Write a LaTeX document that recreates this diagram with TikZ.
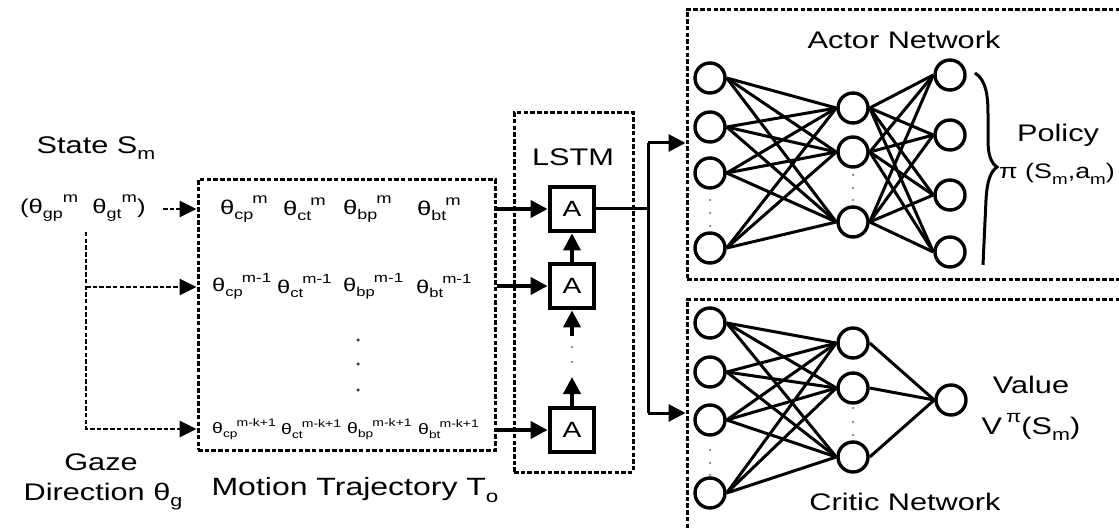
\documentclass[tikz,border=0pt]{standalone}
\usepackage{fontspec}
\setmainfont{Liberation Sans}[FakeStretch=1.28]
\usetikzlibrary{arrows.meta}
\newcommand\mysub[1]{\raisebox{-0.25em}{\scalebox{0.7}{#1}}}
\newcommand\mysup[1]{\raisebox{0.52em}{\scalebox{0.72}{#1}}}
\newcommand\thx[2]{θ\mysub{#1}\kern-0.05em\mysup{#2}}
\begin{document}
\begin{tikzpicture}[x=1pt,y=-1pt,
  lbl/.style={font=\fontsize{24}{28}\selectfont, inner sep=0},
  th/.style={font=\fontsize{20}{24}\selectfont, anchor=west, inner sep=0},
  thm/.style={font=\fontsize{18.5}{22}\selectfont, anchor=west, inner sep=0},
  ths/.style={font=\fontsize{15.2}{19}\selectfont, anchor=west, inner sep=0},
  dashbox/.style={draw, line width=3pt, dash pattern=on 4.5pt off 2.2pt, inner sep=0},
  darr/.style={line width=2.8pt, dash pattern=on 4.5pt off 2.2pt, -{Triangle[length=17pt,width=16pt]}},
  sarr/.style={line width=3.8pt, -{Triangle[length=17pt,width=17pt]}},
  abox/.style={draw, line width=4.8pt, minimum size=44pt, inner sep=0, font=\fontsize{22}{26}\selectfont},
  neuron/.style={draw, circle, line width=3.4pt, minimum size=30pt, inner sep=0},
  wire/.style={line width=3pt},
  dot/.style={fill=gray, circle, inner sep=0, minimum size=2.5pt}
]
\useasboundingbox (0,0) rectangle (1119,529);

% ---------------- left side
\node[lbl] (state) at (96,148) {State S\mysub{m}};
\node[th] (sv) at (20,208) {(θ\mysub{gp}\mysup{m}\ \ θ\mysub{gt}\mysup{m})};
\node[lbl] (gaze) at (101,462) {Gaze};
\node[lbl] (dir) at (103,497) {Direction θ\mysub{g}};

% ---------------- motion trajectory box
\node[dashbox, minimum width=297pt, minimum height=270pt] (mt) at (346.5,315) {};
\node[lbl, font=\fontsize{25}{30}\selectfont] (mtl) at (355,490) {Motion Trajectory T\mysub{o}};

\node[th] (r1a) at (220,209) {\thx{cp}{m}};
\node[th] (r1b) at (283,209) {\thx{ct}{m}};
\node[th] (r1c) at (343,209) {\thx{bp}{m}};
\node[th] (r1d) at (417,209) {\thx{bt}{m}};

\node[thm] (r2a) at (212,286) {\thx{cp}{m-1}};
\node[thm] (r2b) at (277,286) {\thx{ct}{m-1}};
\node[thm] (r2c) at (343,286) {\thx{bp}{m-1}};
\node[thm] (r2d) at (416,286) {\thx{bt}{m-1}};

\node[ths] (r3a) at (212,429) {\thx{cp}{m-k+1}};
\node[ths] (r3b) at (281,429) {\thx{ct}{m-k+1}};
\node[ths] (r3c) at (347,429) {\thx{bp}{m-k+1}};
\node[ths] (r3d) at (418,429) {\thx{bt}{m-k+1}};

\node[dot, minimum size=3.5pt, fill=black!75] (md1) at (358,340) {};
\node[dot, minimum size=3.5pt, fill=black!75] (md2) at (358,364) {};
\node[dot, minimum size=3.5pt, fill=black!75] (md3) at (358,390) {};

% dashed inputs
\coordinate (gtop) at (86,232);
\coordinate (gmid) at (86,287);
\coordinate (gbot) at (86,429);
\coordinate (sst) at (163,209);
\draw[darr] (sst) -- (mt.west |- sst);
\draw[darr] (gtop) |- (mt.west |- gbot);
\draw[darr] (gmid) -- (mt.west |- gmid);

% ---------------- LSTM
\node[dashbox, minimum width=119pt, minimum height=359pt] (lstm) at (573.5,292.5) {};
\node[lbl] (lstml) at (573,157) {LSTM};
\node[abox] (a1) at (572,209) {A};
\node[abox] (a2) at (572,286) {A};
\node[abox] (a3) at (572,430) {A};

\draw[sarr] (mt.east |- a1) -- (a1.west);
\draw[sarr] (mt.east |- a2) -- (a2.west);
\draw[sarr] (mt.east |- a3) -- (a3.west);

\draw[sarr] (a2.north) -- (a1.south);
\coordinate (up2) at (572,336);
\draw[sarr] (up2) -- (a2.south);
\coordinate (up3) at (572,377);
\draw[sarr] (a3.north) -- (up3);
\node[dot] (ld1) at (572,347) {};
\node[dot] (ld2) at (572,362) {};

% ---------------- output split
\node[dashbox, minimum width=450pt, minimum height=270pt] (actor) at (912,145) {};
\node[dashbox, minimum width=450pt, minimum height=250pt] (critic) at (912,425) {};

\coordinate (j) at (648,209);
\coordinate (ja) at (648,143);
\coordinate (jc) at (648,413);
\draw[line width=3pt] (a1.east) -- (j);
\draw[line width=3pt] (ja) -- (jc);
\draw[sarr, line width=3pt] (ja) -- (actor.west |- ja);
\draw[sarr, line width=3pt] (jc) -- (critic.west |- jc);

% ---------------- actor network
\node[lbl] (actl) at (904,40) {Actor Network};
\foreach \n/\y in {1/78,2/127,3/173,4/248} \node[neuron] (ai\n) at (710,\y) {};
\foreach \n/\y in {1/108,2/152,3/222} \node[neuron] (ah\n) at (853,\y) {};
\foreach \n/\y in {1/75,2/135,3/195,4/252} \node[neuron] (ao\n) at (950,\y) {};
\foreach \i in {1,...,4} \foreach \h in {1,2,3} \draw[wire] (ai\i.east) -- (ah\h.west);
\foreach \h in {1,2,3} \foreach \o in {1,...,4} \draw[wire] (ah\h.east) -- (ao\o.west);
\foreach \n/\y in {1/200,2/213,3/226} \node[dot] (aid\n) at (710,\y) {};
\foreach \n/\y in {1/175,2/188,3/200} \node[dot] (ahd\n) at (853,\y) {};

\draw[line width=3pt] (975,73) .. controls (986,80) and (988,95) .. (988,115)
  -- (988,140) .. controls (988,155) and (991,163) .. (997,167)
  .. controls (990,172) and (987,182) .. (986,200) -- (983,265);
\node[lbl] (pol) at (1058,135) {Policy};
\node[lbl, font=\fontsize{21}{25}\selectfont, anchor=west] (pi) at (999,174) {π (S\mysub{m},a\mysub{m})};

% ---------------- critic network
\node[lbl] (crl) at (905,502) {Critic Network};
\foreach \n/\y in {1/323,2/372,3/420,4/493} \node[neuron] (ci\n) at (710,\y) {};
\foreach \n/\y in {1/343,2/388,3/457} \node[neuron] (ch\n) at (853,\y) {};
\node[neuron] (co) at (951,400) {};
\foreach \i in {1,...,4} \foreach \h in {1,2,3} \draw[wire] (ci\i.east) -- (ch\h.west);
\foreach \h in {1,2,3} \draw[wire] (ch\h.east) -- (co.west);
\foreach \n/\y in {1/450,2/463,3/475} \node[dot] (cid\n) at (710,\y) {};
\foreach \n/\y in {1/408,2/422,3/435} \node[dot] (chd\n) at (853,\y) {};

\node[lbl] (val) at (1031,385) {Value};
\node[lbl] (vpi) at (1031,427) {V\,\mysup{π}(S\mysub{m})};
\end{tikzpicture}
\end{document}
